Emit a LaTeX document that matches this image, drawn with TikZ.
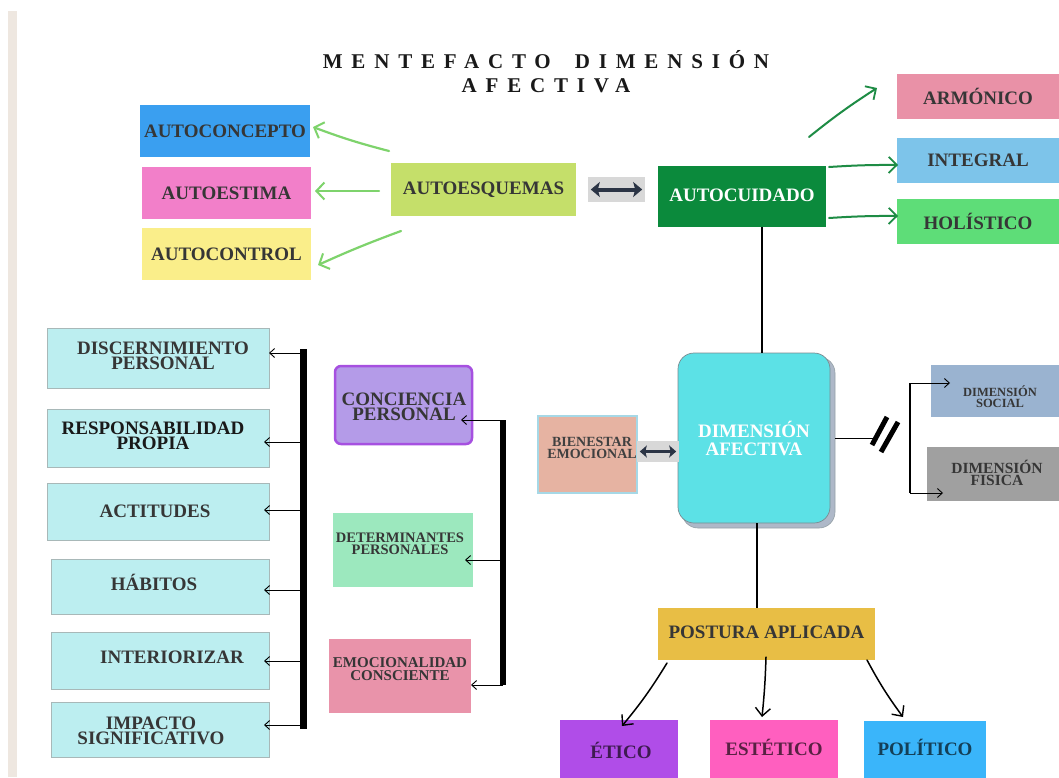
\documentclass[tikz,border=0pt]{standalone}
\usepackage{fontspec}
\setmainfont{Liberation Serif}
\newfontfamily\titlefont[LetterSpace=42]{Liberation Serif}
\usetikzlibrary{arrows.meta}
\definecolor{strip}{HTML}{EEE7E0}
\definecolor{txt}{HTML}{363636}
\definecolor{cblue}{HTML}{3A9FF0}
\definecolor{cpink}{HTML}{F27FC9}
\definecolor{cyellow}{HTML}{FAEE8A}
\definecolor{cesq}{HTML}{C5DF6A}
\definecolor{cgray}{HTML}{D8D8D8}
\definecolor{darr}{HTML}{2B3445}
\definecolor{cdgreen}{HTML}{0B8A3C}
\definecolor{carm}{HTML}{E991A7}
\definecolor{cint}{HTML}{7DC4EA}
\definecolor{chol}{HTML}{5EDD78}
\definecolor{lgreen}{HTML}{7ED36C}
\definecolor{dgreen}{HTML}{1E8C45}
\definecolor{ccyan}{HTML}{BCEEF0}
\definecolor{cborder}{HTML}{A8B8B8}
\definecolor{cconc}{HTML}{B49BE8}
\definecolor{cconcb}{HTML}{A650E0}
\definecolor{cdet}{HTML}{9CE8BE}
\definecolor{cemo}{HTML}{E993AA}
\definecolor{cafe}{HTML}{5CE1E6}
\definecolor{cshadow}{HTML}{AEB8C8}
\definecolor{cafeb}{HTML}{7A8A90}
\definecolor{cbien}{HTML}{E6B3A2}
\definecolor{cbienb}{HTML}{A6D8E6}
\definecolor{csoc}{HTML}{9AB3D0}
\definecolor{cfis}{HTML}{A0A0A0}
\definecolor{cpost}{HTML}{E8BE45}
\definecolor{cetico}{HTML}{B04DE8}
\definecolor{cest}{HTML}{FF5FBF}
\definecolor{cpol}{HTML}{3AB5FA}
\begin{document}
\begin{tikzpicture}[x=1pt,y=-1pt,
  bx/.style={inner sep=0pt, outer sep=0pt, align=center, text=txt,
    font=\bfseries\fontsize{19}{15.5}\selectfont},
  lbl/.style={inner sep=0pt, align=center, text=txt,
    font=\bfseries\fontsize{19}{15.5}\selectfont},
  cy/.style={bx, fill=ccyan, draw=cborder, line width=0.8pt},
  garrow/.style={draw=lgreen, line width=2.2pt, line cap=round,
    -{Straight Barb[length=8pt,width=17pt,line width=2pt]}},
  dgarrow/.style={draw=dgreen, line width=2pt, line cap=round,
    -{Straight Barb[length=8pt,width=16pt,line width=1.8pt]}},
  thin/.style={draw=black, line width=0.9pt, -{Straight Barb[length=5pt,width=9pt]}},
  barrow/.style={draw=black, line width=1.5pt, line cap=round,
    -{Straight Barb[length=8pt,width=15pt,line width=1.4pt]}},
  dbl/.style={draw=darr, line width=4pt,
    {Stealth[length=9pt,width=15pt,inset=2pt]}-{Stealth[length=9pt,width=15pt,inset=2pt]}}
]
\useasboundingbox (0,0) rectangle (1059,777);
\fill[white] (0,0) rectangle (1059,777);
\fill[strip] (8,11) rectangle (17,777);

% title
\node[inner sep=0pt, font=\titlefont\bfseries\fontsize{21}{20}\selectfont, text=black!90] (t1) at (546,60) {MENTEFACTO\hspace{10pt} DIMENSIÓN};
\node[inner sep=0pt, font=\titlefont\bfseries\fontsize{21}{20}\selectfont, text=black!90] (t2) at (546,86) {AFECTIVA};

% top-left group
\node[bx, fill=cblue, minimum width=170pt, minimum height=52pt] (concepto) at (225,131) {AUTOCONCEPTO};
\node[bx, fill=cpink, minimum width=169pt, minimum height=52pt] (estima) at (226.5,193) {AUTOESTIMA};
\node[bx, fill=cyellow, minimum width=169pt, minimum height=52pt] (control) at (226.5,254) {AUTOCONTROL};
\node[bx, fill=cesq, minimum width=185pt, minimum height=53pt] (esquemas) at (483.5,189.5) {AUTOESQUEMAS};

\coordinate (g1) at (389,151);
\coordinate (g2) at (379,191);
\coordinate (g3) at (401,231);
\draw[garrow] (g1) to[bend left=3] ([xshift=3pt,yshift=4pt]concepto.east);
\draw[garrow] (g2) -- ([xshift=4pt]estima.east |- g2);
\draw[garrow] (g3) to[bend right=2] ([xshift=7pt,yshift=-11pt]control.east);

% double arrow
\node[fill=cgray, minimum width=57pt, minimum height=25pt, inner sep=0pt] (dbl1) at (616.5,189.5) {};
\draw[dbl] ([xshift=3pt]dbl1.west) -- ([xshift=-3pt]dbl1.east);

% autocuidado
\node[bx, fill=cdgreen, text=white, minimum width=168pt, minimum height=61pt] (cuidado) at (742,196.5) {\raisebox{3pt}{AUTOCUIDADO}};
\node[bx, fill=carm, minimum width=162pt, minimum height=45pt] (armonico) at (978,96.5) {ARMÓNICO};
\node[bx, fill=cint, minimum width=162pt, minimum height=45pt] (integral) at (978,160.5) {INTEGRAL};
\node[bx, fill=chol, minimum width=162pt, minimum height=45pt] (holistico) at (978,221.5) {HOLÍSTICO};

\coordinate (a1) at (809,137);
\coordinate (a1e) at (877,88);
\draw[dgarrow] (a1) to[bend left=3] (a1e);
\draw[dgarrow] ([xshift=3pt]cuidado.east |- 0,167) to[bend left=2] ([xshift=1pt]integral.west |- 0,165);
\draw[dgarrow] ([xshift=3pt]cuidado.east |- 0,218) to[bend left=2] ([xshift=1pt]holistico.west |- 0,216);

% central box
\fill[cshadow, draw=cafeb!80, line width=0.6pt, rounded corners=16pt] (682,357) rectangle (835,528);
\node[bx, fill=cafe, draw=cafeb, line width=0.7pt, rounded corners=16pt, text=white,
  font=\bfseries\fontsize{19}{18}\selectfont,
  minimum width=152pt, minimum height=170pt] (afectiva) at (754,438) {DIMENSIÓN\\AFECTIVA};

\draw[black, line width=2pt] ([xshift=20pt]cuidado.south) -- ([xshift=20pt]cuidado.south |- afectiva.north);
\coordinate (pa) at (757,523);

% bienestar
\node[bx, fill=cbien, draw=cbienb, line width=1.5pt, minimum width=99pt, minimum height=77pt] (bienestar) at (587.5,454.5) {};
\node[lbl, font=\bfseries\fontsize{14}{11.5}\selectfont, text=black!75] (bienestarT) at (592,448) {BIENESTAR\\EMOCIONAL};
\node[fill=cgray, minimum width=42pt, minimum height=21pt, inner sep=0pt] (dbl2) at (658,451.5) {};
\draw[darr, line width=3pt, {Stealth[length=7pt,width=12pt,inset=1.5pt]}-{Stealth[length=7pt,width=12pt,inset=1.5pt]}] ([xshift=3pt]dbl2.west) -- ([xshift=-3pt]dbl2.east);

% right of afectiva
\coordinate (cut) at (875,438);
\draw[black, line width=1pt] ([xshift=5pt]afectiva.east) -- (cut);
\draw[black, line width=5pt] (872,445) -- (887,417);
\draw[black, line width=5pt] (881,452) -- (898,422);
\coordinate (br1) at (910,383);
\coordinate (br2) at (910,493);
\node[bx, fill=csoc, minimum width=128pt, minimum height=52pt] (social) at (995,391) {};
\node[lbl, font=\bfseries\fontsize{12.5}{11}\selectfont] (socialT) at (1000,397) {DIMENSIÓN\\SOCIAL};
\node[bx, fill=cfis, minimum width=132pt, minimum height=54pt] (fisica) at (993,474) {};
\node[lbl, font=\bfseries\fontsize{15.5}{12.5}\selectfont] (fisicaT) at (997,473) {DIMENSIÓN\\FISICA};
\draw[black, line width=1.5pt] (br1) -- (br2);
\draw[thin] (br1) -- (950,383);
\draw[thin] (br2) -- (943,493);

% postura
\node[bx, fill=cpost, minimum width=217pt, minimum height=52pt] (postura) at (766.5,634) {\raisebox{3pt}{POSTURA APLICADA}};
\draw[black, line width=1.5pt] (pa) -- (pa |- postura.north);
\node[bx, fill=cetico, minimum width=118pt, minimum height=62pt, anchor=north] (etico) at (619,720) {};
\node[lbl, text=black!65!cetico] (eticoT) at (621,750) {ÉTICO};
\node[bx, fill=cest, minimum width=128pt, minimum height=62pt, anchor=north] (estetico) at (774,720) {};
\node[lbl, text=black!65!cest] (esteticoT) at (774,747) {ESTÉTICO};
\node[bx, fill=cpol, minimum width=122pt, minimum height=62pt, anchor=north] (politico) at (925,721) {};
\node[lbl, text=black!65!cpol] (politicoT) at (925,747) {POLÍTICO};
\draw[barrow] (667,663) to[bend left=4] ([xshift=3pt,yshift=-6pt]etico.north);
\draw[barrow] (766,657) to[bend left=2] (762,717);
\draw[barrow] (867,660) to[bend right=4] (903,717);

% left column
\node[cy, minimum width=222pt, minimum height=60pt] (disc) at (158,358) {};
\node[lbl] (discT) at (163,356) {DISCERNIMIENTO\\PERSONAL};
\node[cy, minimum width=222pt, minimum height=58pt] (resp) at (158,438) {};
\node[lbl, text=black!90] (respT) at (153,436) {RESPONSABILIDAD\\PROPIA};
\node[cy, minimum width=222pt, minimum height=57pt] (acti) at (158,511.5) {};
\node[lbl] (actiT) at (155,511) {ACTITUDES};
\node[cy, minimum width=218pt, minimum height=55pt] (habi) at (160,586.5) {};
\node[lbl] (habiT) at (154,582) {HÁBITOS};
\node[cy, minimum width=218pt, minimum height=57pt] (inte) at (160,660.5) {};
\node[lbl] (inteT) at (172,657) {INTERIORIZAR};
\node[cy, minimum width=218pt, minimum height=55pt] (impa) at (160,729.5) {};
\node[lbl] (impaT) at (151,731) {IMPACTO\\SIGNIFICATIVO};

\fill[black] (300,349) rectangle (307,729);
\coordinate (b1) at (303,353);
\coordinate (b2) at (303,442);
\coordinate (b3) at (303,510);
\coordinate (b4) at (303,590);
\coordinate (b5) at (303,661);
\coordinate (b6) at (303,725);
\draw[thin] (b1) -- (disc.east |- b1);
\draw[thin] (b2) -- ([xshift=-5pt]resp.east |- b2);
\draw[thin] (b3) -- ([xshift=-5pt]acti.east |- b3);
\draw[thin] (b4) -- ([xshift=-5pt]habi.east |- b4);
\draw[thin] (b5) -- ([xshift=-5pt]inte.east |- b5);
\draw[thin] (b6) -- ([xshift=-5pt]impa.east |- b6);

% middle column
\node[bx, fill=cconc, draw=cconcb, line width=2.5pt, rounded corners=6pt, minimum width=137pt, minimum height=78pt] (conc) at (403.5,405) {};
\node[lbl] (concT) at (404,407) {CONCIENCIA\\PERSONAL};
\node[bx, fill=cdet, minimum width=140pt, minimum height=74pt] (det) at (403,550) {};
\node[lbl, font=\bfseries\fontsize{14.5}{12}\selectfont] (detT) at (400,544) {DETERMINANTES\\PERSONALES};
\node[bx, fill=cemo, minimum width=142pt, minimum height=74pt] (emo) at (400,676) {};
\node[lbl, font=\bfseries\fontsize{15}{12.5}\selectfont] (emoT) at (400,669) {EMOCIONALIDAD\\CONSCIENTE};

\fill[black] (500,420) rectangle (506,685);
\coordinate (c1) at (503,420);
\coordinate (c2) at (503,560);
\coordinate (c3) at (503,685);
\draw[thin] (c1) -- ([xshift=-11pt]conc.east |- c1);
\draw[thin] (c2) -- ([xshift=-8pt]det.east |- c2);
\draw[thin] (c3) -- (emo.east |- c3);
\end{tikzpicture}
\end{document}
